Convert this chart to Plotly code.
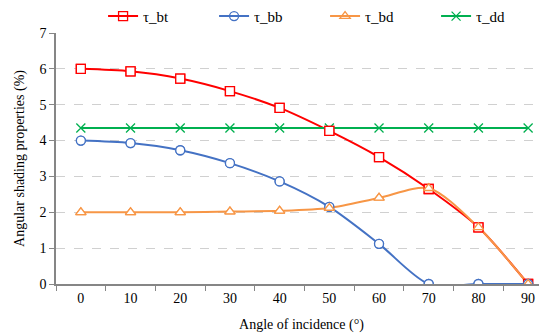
import plotly.graph_objects as go

angles = ["0", "10", "20", "30", "40", "50", "60", "70", "80", "90"]
tau_bt = [6.00, 5.93, 5.73, 5.38, 4.91, 4.27, 3.54, 2.65, 1.58, 0.0]
tau_bb = [4.00, 3.93, 3.73, 3.37, 2.86, 2.15, 1.12, 0.0, 0.0, 0.0]
tau_bd = [2.00, 2.00, 2.00, 2.02, 2.04, 2.12, 2.40, 2.67, 1.58, 0.0]
tau_dd = [4.35] * 10

series = [
    ("τ_bt", tau_bt, "#FF0000", "square-open"),
    ("τ_bb", tau_bb, "#4472C4", "circle-open"),
    ("τ_bd", tau_bd, "#F79646", "triangle-up-open"),
    ("τ_dd", tau_dd, "#00B050", "x-thin-open"),
]

fig = go.Figure()
for name, vals, color, sym in series:
    fig.add_trace(go.Scatter(
        x=angles, y=vals, name=name, mode="lines+markers",
        line=dict(color=color, width=2, shape="spline", smoothing=0.8),
        marker=dict(symbol=sym, size=9, color=color,
                    line=dict(color=color, width=1.3)),
    ))
# white fill under open markers
for name, vals, color, sym in series[:3]:
    fig.add_trace(go.Scatter(
        x=angles, y=vals, mode="markers", showlegend=False, hoverinfo="skip",
        marker=dict(symbol=sym.replace("-open", ""), size=9, color="white",
                    line=dict(color=color, width=1.3)),
    ))

font = "'Liberation Serif', 'Times New Roman', serif"
fig.update_layout(
    width=547, height=334,
    margin=dict(l=48, r=8, t=25, b=58, autoexpand=False),
    paper_bgcolor="white", plot_bgcolor="white",
    font=dict(family=font, size=14, color="#000000"),
    legend=dict(orientation="h", x=0.548, xanchor="center",
                y=0.975, yanchor="middle", yref="container",
                font=dict(family=font, size=15), entrywidth=66, itemwidth=30,
                bgcolor="rgba(0,0,0,0)"),
    xaxis=dict(
        type="category", range=[-0.5, 9.38], automargin=False,
        tickson="boundaries", ticks="outside", ticklen=5, tickcolor="#868686",
        showline=True, linecolor="#868686", linewidth=2,
        showgrid=False, zeroline=False,
        title=dict(text="Angle of incidence (°)", font=dict(size=14), standoff=14),
        tickfont=dict(size=14),
    ),
    yaxis=dict(
        range=[0, 7], dtick=1, ticks="outside", ticklen=5, tickcolor="#868686",
        showline=True, linecolor="#868686", linewidth=1.5, automargin=False,
        showgrid=True, gridcolor="#D0D0D0", griddash="dash", gridwidth=1,
        zeroline=False,
        title=dict(text="Angular shading properties (%)", font=dict(size=14), standoff=12),
        tickfont=dict(size=14),
    ),
)

fig.write_html("out.html")
